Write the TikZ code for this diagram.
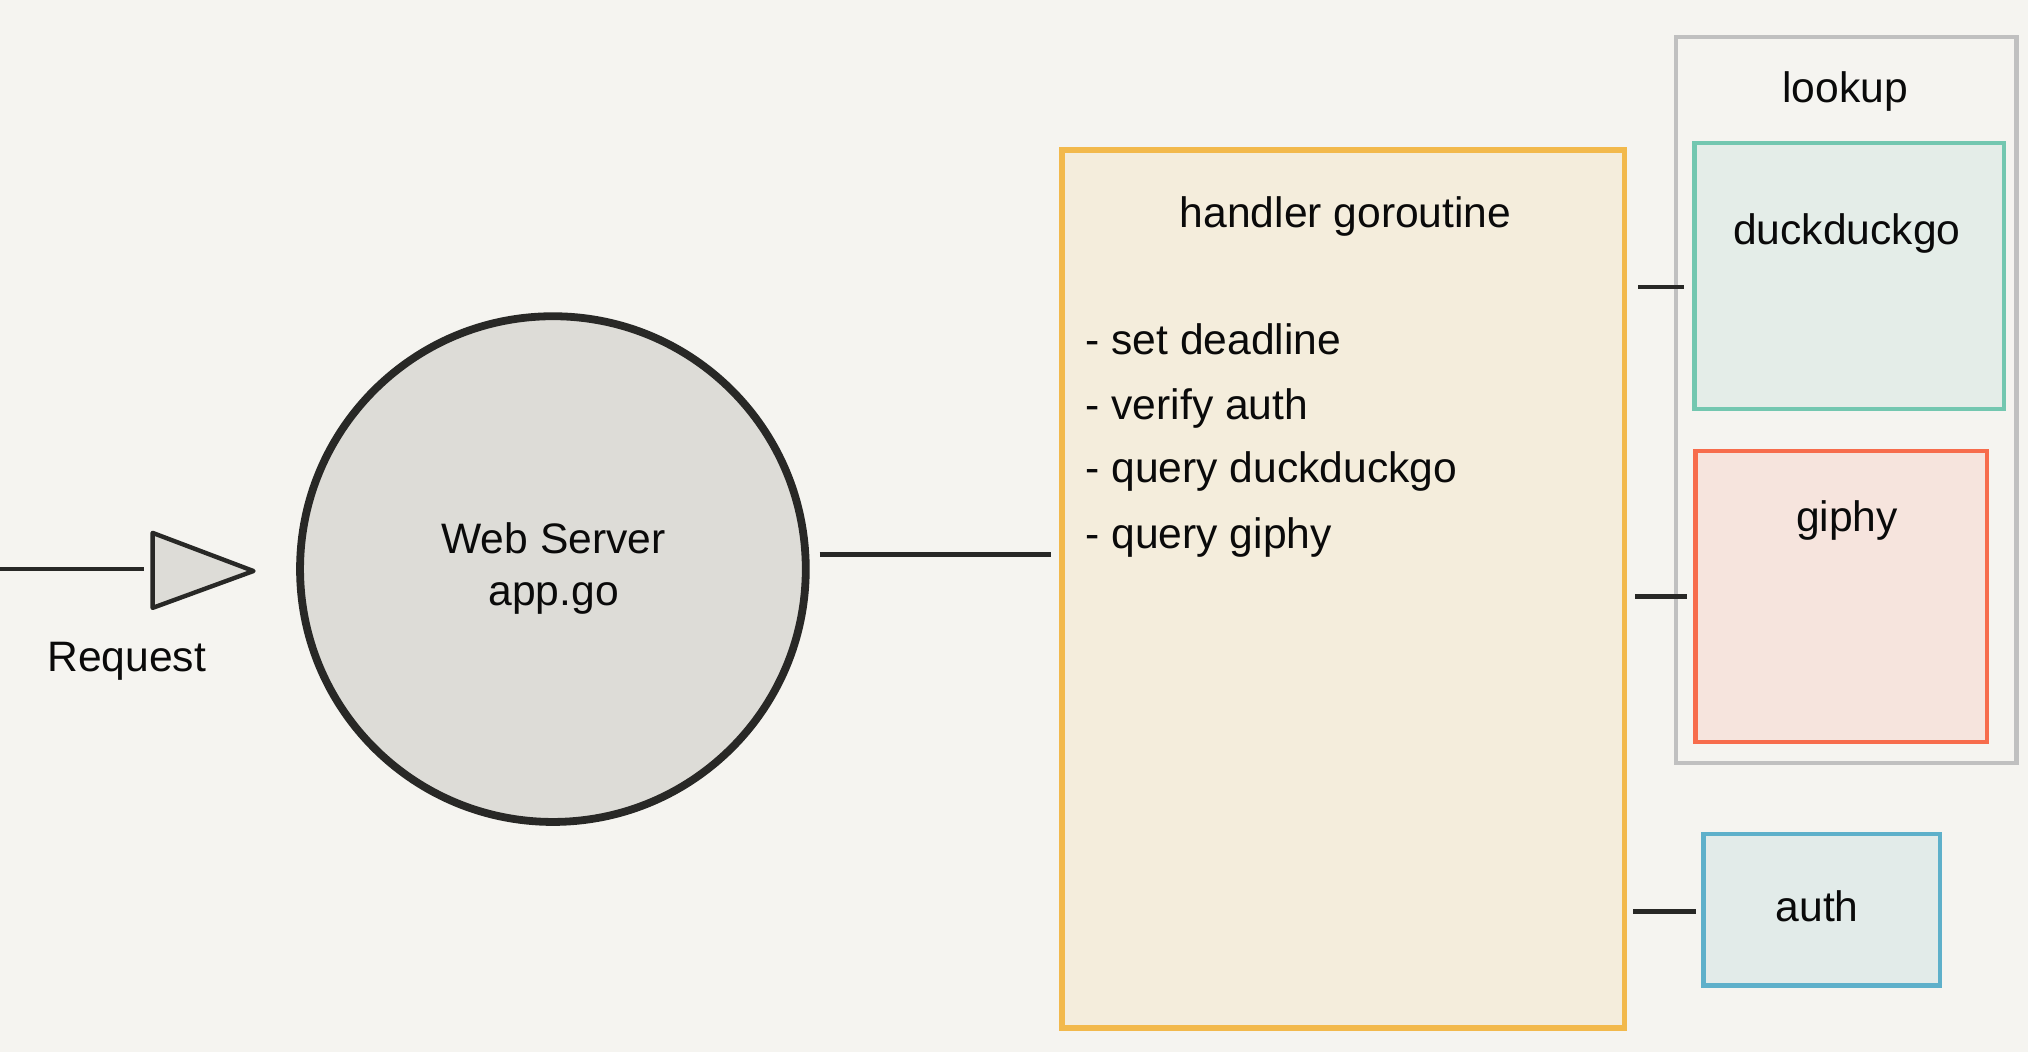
\documentclass[tikz,border=0pt]{standalone}
\usepackage{fontspec}
\setmainfont{Liberation Sans}
\usetikzlibrary{fit}
\definecolor{bg}{RGB}{245,244,240}
\definecolor{ink}{RGB}{40,40,38}
\definecolor{txt}{RGB}{10,10,10}
\definecolor{wsfill}{RGB}{221,220,215}
\definecolor{hfill}{RGB}{244,237,220}
\definecolor{hdraw}{RGB}{242,185,76}
\definecolor{dfill}{RGB}{228,237,232}
\definecolor{ddraw}{RGB}{115,199,176}
\definecolor{gfill}{RGB}{246,228,221}
\definecolor{gdraw}{RGB}{247,108,76}
\definecolor{afill}{RGB}{226,235,233}
\definecolor{adraw}{RGB}{94,176,202}
\definecolor{ldraw}{RGB}{192,192,192}
\begin{document}
\begin{tikzpicture}[x=0.6467pt,y=-0.6467pt,
  lbl/.style={font=\fontsize{21.3}{26}\selectfont, text=txt, inner sep=0pt},
  conn/.style={draw=ink, line width=2.3pt},
  box/.style={inner sep=0pt, line width=2.2pt}]
\useasboundingbox[fill=bg] (0,0) rectangle (1568,813);
% input arrow
\coordinate (start) at (0,440);
\coordinate (tribase) at (111,440);
\draw[conn] (start) -- (tribase);
\draw[draw=ink, fill=wsfill, line width=2.2pt, line join=round] (118,412) -- (196,441.5) -- (118,470) -- cycle;
\node[lbl, anchor=base] (req) at (98,519) {Request};
% web server
\node[circle, draw=ink, fill=wsfill, line width=3.9pt, minimum size=391*0.6467pt, inner sep=0pt] (ws) at (427.5,440) {};
\node[lbl, anchor=base] (ws1) at (428,428) {Web Server};
\node[lbl, anchor=base] (ws2) at (428,468) {app.go};
% handler
\node[box, fit={(821,116)(1256,795)}, draw=hdraw, fill=hfill, line width=2.9pt] (handler) {};
\draw[conn] ([xshift=5pt]ws.east |- 0,428.6) -- ([xshift=-4pt]handler.west |- 0,428.6);
\node[lbl, anchor=base] (htitle) at (1040.4,176) {handler goroutine};
\node[lbl, anchor=base west] (l1) at (839,274) {- set deadline};
\node[lbl, anchor=base west] (l2) at (839,324) {- verify auth};
\node[lbl, anchor=base west] (l3) at (839,373) {- query duckduckgo};
\node[lbl, anchor=base west] (l4) at (839,424) {- query giphy};
% lookup group
\node[box, fit={(1296,28.5)(1559,589.7)}, draw=ldraw] (lookup) {};
\node[lbl, anchor=base] (ltitle) at (1426.6,79) {lookup};
\node[box, fit={(1310,110.4)(1549.5,316)}, draw=ddraw, fill=dfill] (ddg) {};
\node[lbl, anchor=base] (ddgt) at (1428,189) {duckduckgo};
\node[box, fit={(1311,348.7)(1536.3,573.6)}, draw=gdraw, fill=gfill] (giphy) {};
\node[lbl, anchor=base] (giphyt) at (1428,411) {giphy};
% auth
\node[box, fit={(1317,645)(1500,762)}, draw=adraw, fill=afill] (auth) {};
\node[lbl, anchor=base] (autht) at (1405,712.5) {auth};
% short connectors
\draw[conn] ([xshift=5.5pt]handler.east |- 0,221.8) -- ([xshift=-4pt]ddg.west |- 0,221.8);
\draw[conn] ([xshift=4pt]handler.east |- 0,461.2) -- ([xshift=-3pt]giphy.west |- 0,461.2);
\draw[conn] ([xshift=3pt]handler.east |- 0,704.7) -- ([xshift=-2.5pt]auth.west |- 0,704.7);
\end{tikzpicture}
\end{document}
